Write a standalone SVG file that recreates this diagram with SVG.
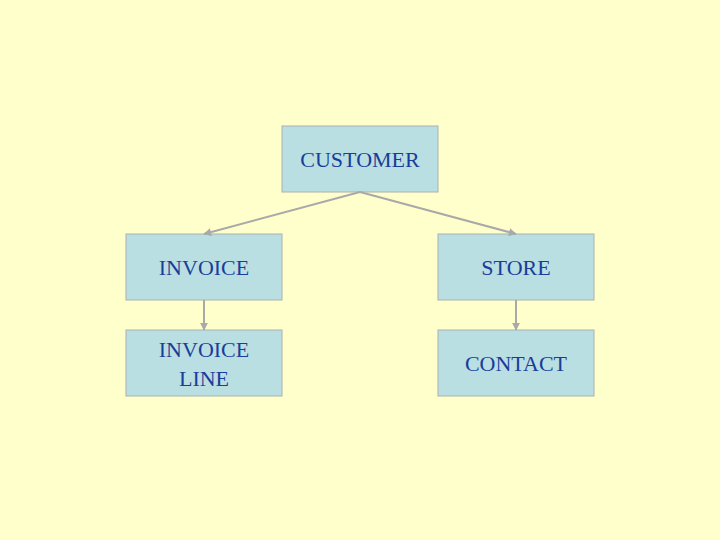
<svg xmlns="http://www.w3.org/2000/svg" width="720" height="540" viewBox="0 0 720 540">
<style>
.box{fill:#b9dfe3;stroke:#aab0b0;stroke-width:1}
.t{font-family:"Liberation Serif",serif;font-size:22px;fill:#1a3d9a;text-anchor:middle}
.c{stroke:#a9a9a9;stroke-width:2;fill:none;marker-end:url(#a)}
</style>
<defs><marker id="a" viewBox="0 0 10 10" refX="9" refY="5" markerWidth="4" markerHeight="4" orient="auto"><path d="M0,0L10,5L0,10z" fill="#a9a9a9"/></marker></defs>
<rect width="720" height="540" fill="#ffffcc"/>
<g id="customer"><rect class="box" x="282" y="126" width="156" height="66"/><text class="t" x="360" y="167">CUSTOMER</text></g>
<g id="invoice"><rect class="box" x="126" y="234" width="156" height="66"/><text class="t" x="204" y="275">INVOICE</text></g>
<g id="store"><rect class="box" x="438" y="234" width="156" height="66"/><text class="t" x="516" y="275">STORE</text></g>
<g id="invoiceline"><rect class="box" x="126" y="330" width="156" height="66"/><text class="t" x="204" y="357">INVOICE</text><text class="t" x="204" y="386">LINE</text></g>
<g id="contact"><rect class="box" x="438" y="330" width="156" height="66"/><text class="t" x="516" y="371">CONTACT</text></g>
<g id="connectors">
<line class="c" x1="360" y1="192" x2="204" y2="234"/>
<line class="c" x1="360" y1="192" x2="516" y2="234"/>
<line class="c" x1="204" y1="300" x2="204" y2="330"/>
<line class="c" x1="516" y1="300" x2="516" y2="330"/>
</g>
</svg>
